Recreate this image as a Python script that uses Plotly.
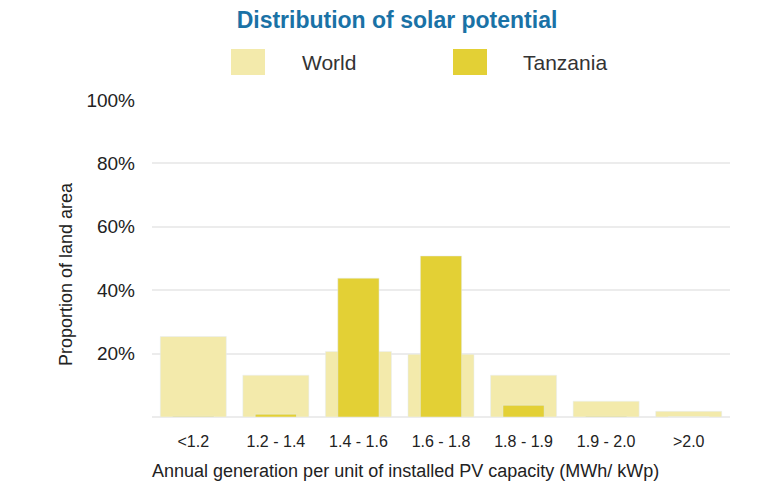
import plotly.graph_objects as go

categories = ["<1.2", "1.2 - 1.4", "1.4 - 1.6", "1.6 - 1.8", "1.8 - 1.9", "1.9 - 2.0", ">2.0"]
world = [25.4, 13.2, 20.7, 19.8, 13.2, 5.0, 1.8]
tanzania = [0.2, 0.9, 43.8, 50.8, 3.7, 0.2, 0.0]
series_names = ["World", "Tanzania"]
colors = ["#f3eaab", "#e3d035"]

fig = go.Figure()
fig.add_trace(go.Bar(x=categories, y=world, name=series_names[0], marker_color=colors[0],
                     width=0.8, showlegend=False))
fig.add_trace(go.Bar(x=categories, y=tanzania, name=series_names[1], marker_color=colors[1],
                     width=0.5, showlegend=False))

font_family = "Liberation Sans, Arial, sans-serif"
PL, PR, PT, PB = 152, 730, 100, 417
PW, PH = PR - PL, PB - PT

def px(x):
    return (x - PL) / PW

def py(y):
    return (PB - y) / PH

fig.update_layout(
    barmode="overlay",
    width=762, height=504,
    margin=dict(l=PL, r=762 - PR, t=PT, b=504 - PB),
    plot_bgcolor="white", paper_bgcolor="white",
    font=dict(family=font_family, size=16, color="#222222"),
    title=dict(text="<b>Distribution of solar potential</b>", x=397 / 762, xanchor="center",
               y=1 - 20 / 504, yanchor="middle",
               font=dict(size=23, color="#1a72a6", family=font_family)),
    xaxis=dict(showgrid=False, showline=False, ticks="", tickfont=dict(size=16),
               ticklabelstandoff=13),
    yaxis=dict(range=[0, 100], tickvals=[20, 40, 60, 80, 100],
               ticktext=["20%", "40%", "60%", "80%", "100%"],
               showgrid=True, gridcolor="#ececec", gridwidth=2, zeroline=True,
               zerolinecolor="#ececec", zerolinewidth=2, ticks="", tickfont=dict(size=19),
               ticklabelstandoff=16),
)

# axis titles
fig.add_annotation(xref="paper", yref="paper", x=px(405), y=py(471),
                   text="Annual generation per unit of installed PV capacity (MWh/ kWp)",
                   showarrow=False, xanchor="center", yanchor="middle",
                   font=dict(size=18, color="#222222"))
fig.add_annotation(xref="paper", yref="paper", x=px(66), y=py(274),
                   text="Proportion of land area", textangle=-90,
                   showarrow=False, xanchor="center", yanchor="middle",
                   font=dict(size=18, color="#222222"))

# legend drawn manually with large swatches
legend_items = [(231, 300), (453, 521)]
for (sx, tx), name, col in zip(legend_items, series_names, colors):
    fig.add_shape(type="rect", xref="paper", yref="paper",
                  x0=px(sx), x1=px(sx + 34),
                  y0=py(75), y1=py(49),
                  fillcolor=col, line=dict(width=0))
    fig.add_annotation(xref="paper", yref="paper", x=px(tx), y=py(62),
                       text=name, showarrow=False, xanchor="left", yanchor="middle",
                       font=dict(size=21, color="#333333"))

fig.write_html("out.html")
